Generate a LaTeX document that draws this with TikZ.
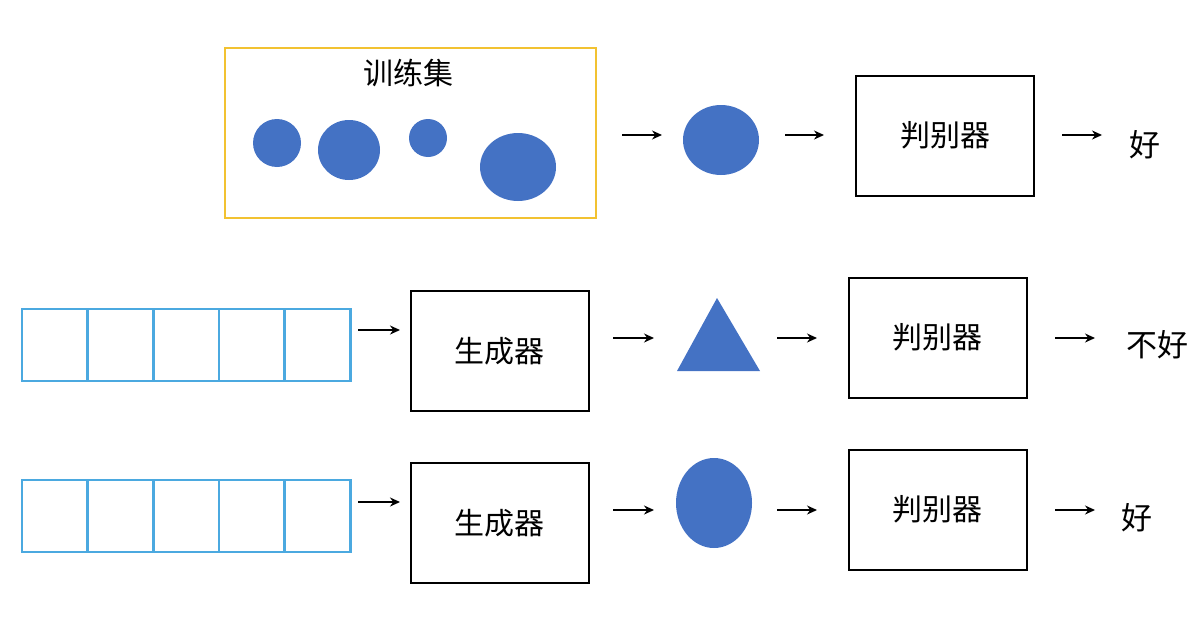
\documentclass[tikz,border=0pt]{standalone}
\usepackage{fontspec}
\setmainfont{Noto Sans CJK SC}
\usetikzlibrary{arrows.meta,shapes.geometric}
\definecolor{fillb}{HTML}{4472C4}
\definecolor{cellb}{HTML}{4BA9E0}
\definecolor{yel}{HTML}{F2C231}
\begin{document}
\begin{tikzpicture}[x=1pt,y=-1pt,
  blob/.style={ellipse,fill=fillb,inner sep=0pt},
  box/.style={draw=black,line width=2pt,minimum width=178pt,minimum height=120pt,font=\fontsize{30}{34}\selectfont},
  arr/.style={-{Stealth[length=10pt,width=9pt]},line width=1.5pt},
  lbl/.style={font=\fontsize{31}{34}\selectfont},
  cell/.style={draw=cellb,line width=2.5pt,minimum width=66pt,minimum height=72pt,inner sep=0pt}]
\useasboundingbox (0,0) rectangle (1198,618);
% row 1
\node[draw=yel,line width=2.5pt,minimum width=371pt,minimum height=170pt] (train) at (410.5,133) {};
\node[font=\fontsize{30}{34}\selectfont] (tl) at (408,73) {训练集};
\node[blob,minimum width=48pt,minimum height=48pt] (c1) at (277,143) {};
\node[blob,minimum width=62pt,minimum height=60pt] (c2) at (349,150) {};
\node[blob,minimum width=38pt,minimum height=38pt] (c3) at (428,138) {};
\node[blob,minimum width=76pt,minimum height=68pt] (c4) at (518,167) {};
\coordinate (a1s) at (622,135); \coordinate (a1e) at (662,135);
\draw[arr] (a1s) -- (a1e);
\node[blob,minimum width=76pt,minimum height=70pt] (o1) at (721,140) {};
\coordinate (b1s) at (785,135); \coordinate (b1e) at (824,135);
\draw[arr] (b1s) -- (b1e);
\node[box] (d1) at (945,135.5) {判别器};
\coordinate (e1s) at (1062,135); \coordinate (e1e) at (1102,135);
\draw[arr] (e1s) -- (e1e);
\node[lbl] (r1) at (1145,145) {好};
% row 2
\foreach \i in {0,...,4} \node[cell] (p\i) at (55+65.6*\i,345) {};
\coordinate (a2s) at (358,330); \coordinate (a2e) at (400,330);
\draw[arr] (a2s) -- (a2e);
\node[box] (g2) at (499.5,351) {生成器};
\coordinate (b2s) at (613,338); \coordinate (b2e) at (654,338);
\draw[arr] (b2s) -- (b2e);
\path[fill=fillb] (717,298) -- (760,371) -- (677,371) -- cycle;
\coordinate (c2s) at (777,338); \coordinate (c2e) at (817,338);
\draw[arr] (c2s) -- (c2e);
\node[box] (d2) at (937.5,337.5) {判别器};
\coordinate (e2s) at (1055,338); \coordinate (e2e) at (1095,338);
\draw[arr] (e2s) -- (e2e);
\node[lbl] (r2) at (1157,345) {不好};
% row 3
\foreach \i in {0,...,4} \node[cell] (q\i) at (55+65.6*\i,516) {};
\coordinate (a3s) at (358,502); \coordinate (a3e) at (400,502);
\draw[arr] (a3s) -- (a3e);
\node[box] (g3) at (499.5,523) {生成器};
\coordinate (b3s) at (613,510); \coordinate (b3e) at (654,510);
\draw[arr] (b3s) -- (b3e);
\node[blob,minimum width=76pt,minimum height=90pt] (o3) at (714,503) {};
\coordinate (c3s) at (777,510); \coordinate (c3e) at (817,510);
\draw[arr] (c3s) -- (c3e);
\node[box] (d3) at (937.5,509.5) {判别器};
\coordinate (e3s) at (1055,510); \coordinate (e3e) at (1095,510);
\draw[arr] (e3s) -- (e3e);
\node[lbl] (r3) at (1137,518) {好};
\end{tikzpicture}
\end{document}
